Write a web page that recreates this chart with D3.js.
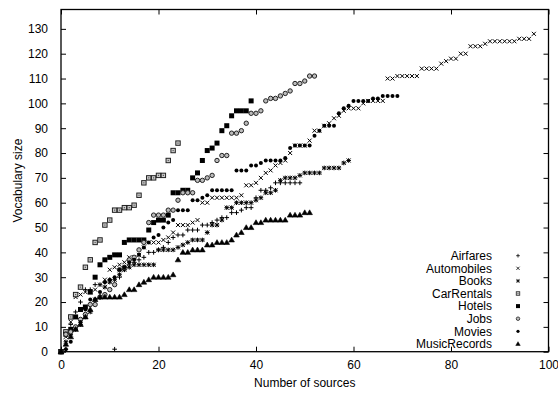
<!DOCTYPE html>
<html><head><meta charset="utf-8">
<script src="https://cdn.jsdelivr.net/npm/d3@7"></script>
<style>
html,body{margin:0;padding:0;background:#fff;}
text{font-family:"Liberation Sans",Arial,Helvetica,sans-serif;font-size:12px;fill:#000;}
</style></head>
<body>
<svg id="chart" width="558" height="394"></svg>
<script>
// values indexed by number of sources (0,1,2,...)
const airfares = [0,1,11,16,20,25,25,27,27,28,29,1,30,33,35,36,37,38,40,40,41,42,44,46,47,47,49,49,49,51,51,52,53,54,54,56,56,57,58,58,62,65,65,66,68,68,68,68,68,68];
const automobiles = [0,6,12,22,23,24,24,25,27,29,33,34,35,36,38,38,39,42,44,44,44,45,46,48,51,51,51,52,53,60,60,62,62,62,62,62,62,63,67,67,68,70,72,73,75,76,77,80,83,83,83,85,89,89,91,92,94,95,97,98,98,98,100,101,101,101,101,110,110,111,111,111,111,111,114,114,114,114,116,117,118,118,120,120,123,123,123,124,125,125,125,125,125,125,126,126,126,128];
const books = [0,4,7,9,11,14,16,21,22,26,28,29,31,33,34,35,35,35,35,35,41,41,41,41,42,43,44,45,45,45,48,51,51,53,58,58,60,60,60,60,61,62,64,64,65,69,70,70,70,71,72,72,72,72,74,74,74,74,76,77];
const carRentals = [0,8,14,23,26,34,37,44,45,51,53,57,57,58,58,59,63,68,70,70,71,71,77,81,84];
const hotels = [0,7,9,14,17,18,24,30,35,37,38,39,39,44,45,45,45,45,49,52,53,53,55,64,64,65,65,70,72,77,81,82,84,89,91,95,97,97,97,101];
const jobs = [0,7,8,10,13,15,19,19,22,23,25,27,33,34,37,38,41,44,52,55,55,55,57,57,61,64,64,64,69,69,70,71,77,79,79,88,88,89,92,96,96,97,101,102,102,103,104,105,108,108,109,111,111];
const movies = [0,1,4,9,12,17,21,21,24,28,29,30,33,34,36,37,39,42,44,46,47,50,52,53,57,57,57,61,61,62,63,65,65,65,65,65,73,73,73,75,75,76,77,77,77,77,78,82,83,83,83,83,87,89,91,91,91,96,98,99,101,101,101,101,102,102,103,103,103,103];
const musicRecords = [0,3,6,9,11,14,17,21,22,22,22,22,22,23,25,25,27,28,29,30,30,30,30,31,37,40,40,41,41,41,43,43,44,44,44,45,47,48,50,50,52,52,53,53,53,53,53,55,55,55,56,56];

const seriesNames = ["Airfares","Automobiles","Books","CarRentals","Hotels","Jobs","Movies","MusicRecords"];
const seriesValues = [airfares,automobiles,books,carRentals,hotels,jobs,movies,musicRecords];
const seriesMarkers = ["plus","cross","star","square","fsquare","circle","fcircle","triangle"];
const xTicks = [0,20,40,60,80,100];
const yTicks = [0,10,20,30,40,50,60,70,80,90,100,110,120,130];

const svg = d3.select("#chart");
const L = 61, R = 548.5, T = 9.5, B = 351.7;
const x = d3.scaleLinear().domain([0,100]).range([L,R]);
const y = d3.scaleLinear().domain([0,137.8]).range([B,T]);

const tickLen = 5;
svg.append("g").attr("transform",`translate(0,${B})`)
  .call(d3.axisBottom(x).tickValues(xTicks).tickSizeInner(-tickLen).tickSizeOuter(0).tickPadding(9).tickFormat(d3.format("d")))
  .call(g=>{g.select(".domain").remove(); g.selectAll("text").attr("font-size",12).attr("font-family","Liberation Sans, Arial, sans-serif").attr("fill","#000");});
svg.append("g").attr("transform",`translate(0,${T})`)
  .call(d3.axisTop(x).tickValues(xTicks).tickSizeInner(-tickLen).tickSizeOuter(0).tickFormat(""))
  .call(g=>g.select(".domain").remove());
svg.append("g").attr("transform",`translate(${L},0)`)
  .call(d3.axisLeft(y).tickValues(yTicks).tickSizeInner(-tickLen).tickSizeOuter(0).tickPadding(13).tickFormat(d3.format("d")))
  .call(g=>{g.select(".domain").remove(); g.selectAll("text").attr("font-size",12).attr("font-family","Liberation Sans, Arial, sans-serif").attr("fill","#000");});
svg.append("g").attr("transform",`translate(${R},0)`)
  .call(d3.axisRight(y).tickValues(yTicks).tickSizeInner(-tickLen).tickSizeOuter(0).tickFormat(""))
  .call(g=>g.select(".domain").remove());
svg.selectAll(".tick line").attr("stroke","#000").attr("stroke-width",1);

svg.append("rect").attr("x",L).attr("y",T).attr("width",R-L).attr("height",B-T)
  .attr("fill","none").attr("stroke","#000").attr("stroke-width",1.3);

svg.append("text").attr("x",(L+R)/2).attr("y",387).attr("text-anchor","middle").text("Number of sources");
svg.append("text").attr("transform",`translate(18,${(T+B)/2}) rotate(-90)`).attr("dy","0.35em").attr("text-anchor","middle").text("Vocabulary size");

function drawMarker(g, type){
  const s = 2.3;
  if(type==="plus"){
    g.append("path").attr("d",`M${-s},0H${s}M0,${-s}V${s}`).attr("stroke","#000").attr("stroke-width",1).attr("fill","none");
  } else if(type==="cross"){
    g.append("path").attr("d",`M-2,-2L2,2M-2,2L2,-2`).attr("stroke","#000").attr("stroke-width",1).attr("fill","none");
  } else if(type==="star"){
    g.append("path").attr("d",`M${-s},0H${s}M0,${-s}V${s}M-2,-2L2,2M-2,2L2,-2`).attr("stroke","#000").attr("stroke-width",1).attr("fill","none");
  } else if(type==="square"){
    g.append("rect").attr("x",-2.2).attr("y",-2.2).attr("width",4.4).attr("height",4.4).attr("fill","#ccc").attr("stroke","#222").attr("stroke-width",1);
    g.append("rect").attr("x",-0.6).attr("y",-0.6).attr("width",1.2).attr("height",1.2).attr("fill","#555");
  } else if(type==="fsquare"){
    g.append("rect").attr("x",-2.5).attr("y",-2.5).attr("width",5).attr("height",5).attr("fill","#000");
  } else if(type==="circle"){
    g.append("circle").attr("r",2.2).attr("fill","#bbb").attr("stroke","#222").attr("stroke-width",1);
  } else if(type==="fcircle"){
    g.append("circle").attr("r",2).attr("fill","#000");
  } else if(type==="triangle"){
    g.append("path").attr("d","M0,-2.8L2.8,2L-2.8,2Z").attr("fill","#000").attr("stroke","#000").attr("stroke-width",0.6);
  }
}

seriesValues.forEach((vals,i)=>{
  const g = svg.append("g").attr("class","series");
  vals.forEach((v,k)=>{
    const m = g.append("g").attr("transform",`translate(${x(k)},${y(v)})`);
    drawMarker(m, seriesMarkers[i]);
  });
});

const leg = svg.append("g");
seriesNames.forEach((n,i)=>{
  const cy = 255.7 + i*12.6;
  leg.append("text").attr("x",492).attr("y",cy).attr("dy","0.35em").attr("text-anchor","end").text(n);
  const m = leg.append("g").attr("transform",`translate(518,${cy}) scale(0.8)`);
  drawMarker(m, seriesMarkers[i]);
});
</script>
</body></html>
